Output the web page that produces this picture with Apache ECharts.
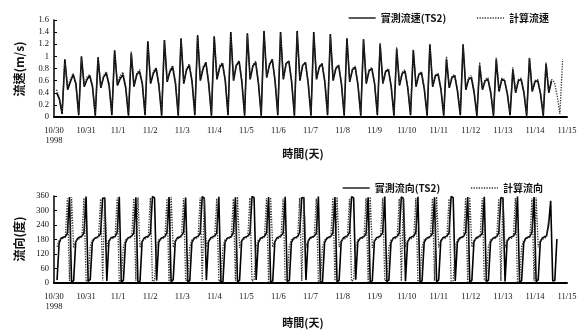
<!DOCTYPE html>
<html><head><meta charset="utf-8">
<script src="https://cdn.jsdelivr.net/npm/echarts@6/dist/echarts.min.js"></script>
<style>html,body{margin:0;padding:0;background:#fff}#c{width:584px;height:331px}</style>
</head><body><div id="c"></div>
<script>
// x tick labels (one per day)
const dayLabels = ['10/30\n1998','10/31','11/1','11/2','11/3','11/4','11/5','11/6','11/7','11/8','11/9','11/10','11/11','11/12','11/13','11/14','11/15'];
const speedTicks = [0,0.2,0.4,0.6,0.8,1.0,1.2,1.4,1.6];
const dirTicks = [0,60,120,180,240,300,360];

// speed samples: start day and sampling step (hours)
const speedStartDay = 0.08;
const speedStepHours = 12.42 / 6;
// 實測流速(TS2) m/s  (rows = one tidal half-day)
const measuredSpeed = [
 0.40,0.30,0.05,0.95,0.45,0.58,
 0.70,0.55,0.03,1.00,0.50,0.62,
 0.68,0.50,0.02,0.98,0.48,0.66,
 0.72,0.52,0.03,1.10,0.52,0.63,
 0.70,0.48,0.02,1.05,0.50,0.70,
 0.75,0.55,0.03,1.25,0.55,0.72,
 0.80,0.52,0.02,1.27,0.58,0.75,
 0.82,0.55,0.02,1.30,0.55,0.78,
 0.85,0.58,0.03,1.35,0.60,0.80,
 0.90,0.55,0.02,1.33,0.62,0.82,
 0.88,0.60,0.03,1.40,0.60,0.85,
 0.92,0.58,0.02,1.38,0.62,0.84,
 0.90,0.55,0.02,1.42,0.65,0.86,
 0.95,0.60,0.03,1.40,0.62,0.88,
 0.92,0.58,0.02,1.42,0.60,0.85,
 0.90,0.55,0.02,1.40,0.62,0.82,
 0.88,0.58,0.03,1.37,0.60,0.80,
 0.85,0.55,0.02,1.30,0.58,0.78,
 0.82,0.52,0.02,1.28,0.55,0.76,
 0.80,0.55,0.03,1.20,0.55,0.75,
 0.78,0.50,0.02,1.12,0.52,0.72,
 0.75,0.48,0.03,1.10,0.50,0.70,
 0.72,0.45,0.02,1.20,0.50,0.68,
 0.70,0.45,0.02,0.95,0.48,0.65,
 0.68,0.42,0.03,1.20,0.45,0.62,
 0.65,0.40,0.02,0.85,0.45,0.60,
 0.62,0.40,0.02,0.95,0.42,0.62,
 0.60,0.38,0.03,0.78,0.40,0.60,
 0.62,0.40,0.02,0.97,0.42,0.58,
 0.60,0.38,0.02,0.88,0.40,0.60
];
// 計算流速 m/s
const computedSpeed = [
 0.45,0.32,0.08,0.90,0.50,0.62,
 0.72,0.52,0.06,0.98,0.52,0.66,
 0.70,0.50,0.06,1.00,0.50,0.68,
 0.75,0.55,0.07,1.08,0.55,0.68,
 0.74,0.52,0.06,1.08,0.52,0.72,
 0.78,0.56,0.07,1.20,0.58,0.75,
 0.82,0.55,0.06,1.25,0.60,0.78,
 0.85,0.58,0.06,1.28,0.58,0.80,
 0.88,0.60,0.07,1.32,0.62,0.83,
 0.90,0.58,0.06,1.32,0.64,0.85,
 0.90,0.62,0.07,1.36,0.62,0.86,
 0.92,0.60,0.06,1.36,0.64,0.86,
 0.92,0.58,0.06,1.38,0.66,0.88,
 0.94,0.62,0.07,1.38,0.64,0.88,
 0.92,0.60,0.06,1.38,0.62,0.86,
 0.90,0.58,0.06,1.36,0.62,0.84,
 0.88,0.60,0.07,1.34,0.62,0.82,
 0.86,0.58,0.06,1.30,0.60,0.80,
 0.84,0.55,0.06,1.28,0.58,0.78,
 0.82,0.56,0.07,1.22,0.56,0.76,
 0.80,0.52,0.06,1.15,0.55,0.74,
 0.78,0.50,0.07,1.12,0.52,0.72,
 0.75,0.48,0.06,1.18,0.52,0.70,
 0.72,0.48,0.06,1.00,0.50,0.68,
 0.70,0.45,0.07,1.18,0.48,0.65,
 0.68,0.44,0.06,0.90,0.46,0.62,
 0.65,0.42,0.06,0.98,0.45,0.64,
 0.62,0.40,0.07,0.82,0.42,0.62,
 0.64,0.42,0.06,0.98,0.44,0.60,
 0.62,0.40,0.06,0.90,0.42,0.62,
 0.58,0.36,0.05,0.95
];

// direction samples
const dirStartDay = 0.095;
const dirStepHours = 12.42 / 8;
// 實測流向(TS2) degrees
const measuredDir = [
 12,165,186,189,192,206,356,4,
 10,170,185,190,194,208,358,6,
 15,168,184,188,193,204,352,350,
 8,172,187,190,192,210,357,3,
 12,166,185,189,195,206,355,5,
 6,170,186,191,193,205,358,352,
 10,168,184,188,192,208,356,4,
 14,171,187,190,196,210,354,6,
 9,167,185,189,193,205,358,350,
 12,170,186,191,194,207,357,3,
 7,169,185,188,192,209,355,5,
 11,172,187,190,195,204,358,353,
 13,166,184,189,193,208,356,4,
 8,170,186,191,196,206,357,6,
 10,168,185,188,192,210,354,351,
 12,171,187,190,194,205,358,3,
 6,167,185,189,193,207,356,5,
 11,170,186,191,195,209,357,352,
 14,169,184,188,192,204,355,4,
 9,172,187,190,196,208,358,6,
 12,166,185,189,193,206,356,350,
 7,170,186,191,194,210,357,3,
 10,168,184,188,192,205,355,5,
 13,171,187,190,195,207,358,353,
 8,167,185,189,193,209,356,4,
 11,170,186,191,196,204,357,6,
 12,169,184,188,192,208,354,351,
 6,172,187,190,194,206,358,3,
 10,166,185,189,193,210,356,5,
 14,170,186,191,195,240,340,8,
 10,182
];
// 計算流向 degrees
const computedDir = [
 150,178,182,185,190,350,8,355,
 145,176,181,184,192,352,6,12,
 152,179,183,186,189,348,10,356,
 148,177,182,185,193,353,5,14,
 150,178,183,186,190,350,9,354,
 146,176,181,184,191,352,7,10,
 151,179,182,185,189,349,6,357,
 147,177,183,186,192,351,11,12,
 150,178,182,184,190,353,8,355,
 149,176,181,185,191,350,6,13,
 152,179,183,186,189,348,9,356,
 146,177,182,184,193,352,7,11,
 150,178,183,185,190,351,5,354,
 148,176,181,186,191,349,10,12,
 151,179,182,184,189,353,8,357,
 147,177,183,185,192,350,6,10,
 150,178,182,186,190,352,9,355,
 149,176,181,184,191,348,7,13,
 152,179,183,185,189,351,5,356,
 146,177,182,186,193,353,10,11,
 150,178,183,184,190,349,8,354,
 148,176,181,185,191,352,6,12,
 151,179,182,186,189,350,9,357,
 147,177,183,184,192,348,7,10,
 150,178,182,185,190,353,5,355,
 149,176,181,186,191,351,10,13,
 152,179,183,184,189,349,8,356,
 146,177,182,185,193,352,6,11,
 150,178,183,186,190,350,9,354,
 148,176,181,184,191,260
];

const toPairs = (vals, start, stepH) => vals.map((v, i) => [start + i * stepH / 24, v]);

const serifFont = '"Liberation Serif", "DejaVu Serif", serif';
const cjkFont = '"Noto Sans CJK TC", "Noto Sans CJK SC", sans-serif';

const chart = echarts.init(document.getElementById('c'), null, {renderer: 'canvas'});

const xAxisBase = {
  type: 'value', min: 0, max: dayLabels.length - 1, interval: 1,
  axisLine: {lineStyle: {color: '#000', width: 2}},
  axisTick: {show: false},
  splitLine: {show: false},
  axisLabel: {
    fontSize: 8.5, fontFamily: serifFont, color: '#111', margin: 9, lineHeight: 10,
    formatter: v => dayLabels[Math.round(v)] || ''
  }
};
const yAxisBase = {
  type: 'value',
  axisLine: {show: true, lineStyle: {color: '#000', width: 1.5}},
  axisTick: {show: true, inside: true, length: 3, lineStyle: {color: '#000'}},
  splitLine: {show: false},
  axisLabel: {fontSize: 8.5, fontFamily: serifFont, color: '#111', margin: 5}
};

const legendBase = {
  orient: 'horizontal', itemWidth: 27, itemHeight: 8, itemGap: 30,
  itemStyle: {opacity: 0},
  lineStyle: {width: 1.3},
  textStyle: {fontSize: 10, fontWeight: 'bold', fontFamily: cjkFont, color: '#111'}
};

chart.setOption({
  animation: false,
  backgroundColor: '#fff',
  grid: [
    {left: 54, right: 17, top: 20, height: 97},
    {left: 54, right: 17, top: 196, height: 87}
  ],
  xAxis: [
    Object.assign({gridIndex: 0}, xAxisBase),
    Object.assign({gridIndex: 1}, xAxisBase)
  ],
  yAxis: [
    Object.assign({gridIndex: 0, min: speedTicks[0], max: speedTicks[speedTicks.length - 1], interval: 0.2}, yAxisBase),
    Object.assign({gridIndex: 1, min: dirTicks[0], max: dirTicks[dirTicks.length - 1], interval: 60}, yAxisBase)
  ],
  legend: [
    Object.assign({left: 343, top: 8, data: ['實測流速(TS2)', '計算流速']}, legendBase),
    Object.assign({left: 337, top: 178, data: ['實測流向(TS2)', '計算流向']}, legendBase)
  ],
  graphic: [
    {type: 'text', x: 19, y: 69, rotation: Math.PI / 2,
     style: {text: '流速(m/s)', align: 'center', verticalAlign: 'middle', fontSize: 12, fontWeight: 'bold', fontFamily: cjkFont, fill: '#111'}},
    {type: 'text', x: 19, y: 239, rotation: Math.PI / 2,
     style: {text: '流向(度)', align: 'center', verticalAlign: 'middle', fontSize: 12, fontWeight: 'bold', fontFamily: cjkFont, fill: '#111'}},
    {type: 'text', x: 303, y: 154,
     style: {text: '時間(天)', align: 'center', verticalAlign: 'middle', fontSize: 11, fontWeight: 'bold', fontFamily: cjkFont, fill: '#111'}},
    {type: 'text', x: 303, y: 323,
     style: {text: '時間(天)', align: 'center', verticalAlign: 'middle', fontSize: 11, fontWeight: 'bold', fontFamily: cjkFont, fill: '#111'}}
  ],
  series: [
    {name: '實測流速(TS2)', type: 'line', xAxisIndex: 0, yAxisIndex: 0, symbol: 'none',
     lineStyle: {color: '#000', width: 1.6}, itemStyle: {color: '#000'},
     data: toPairs(measuredSpeed, speedStartDay, speedStepHours)},
    {name: '計算流速', type: 'line', xAxisIndex: 0, yAxisIndex: 0, symbol: 'none',
     lineStyle: {color: '#333', width: 1.3, type: 'dotted'}, itemStyle: {color: '#333'},
     data: toPairs(computedSpeed, speedStartDay, speedStepHours)},
    {name: '實測流向(TS2)', type: 'line', xAxisIndex: 1, yAxisIndex: 1, symbol: 'none',
     lineStyle: {color: '#000', width: 1.6}, itemStyle: {color: '#000'},
     data: toPairs(measuredDir, dirStartDay, dirStepHours)},
    {name: '計算流向', type: 'line', xAxisIndex: 1, yAxisIndex: 1, symbol: 'none',
     lineStyle: {color: '#333', width: 1.3, type: 'dotted'}, itemStyle: {color: '#333'},
     data: toPairs(computedDir, dirStartDay, dirStepHours)}
  ]
});
</script>
</body></html>
